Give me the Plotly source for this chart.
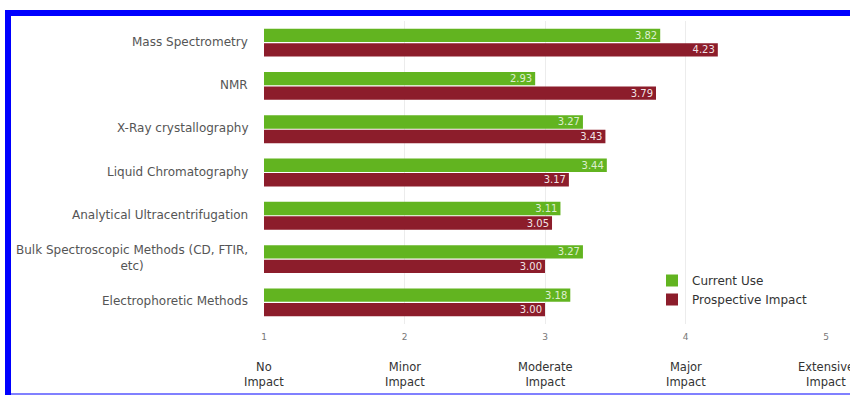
import plotly.graph_objects as go

# ---------------- data ----------------
categories = [
    "Mass Spectrometry",
    "NMR",
    "X-Ray crystallography",
    "Liquid Chromatography",
    "Analytical Ultracentrifugation",
    "Bulk Spectroscopic Methods (CD, FTIR,<br>etc)",
    "Electrophoretic Methods",
]
current_use = [3.82, 2.93, 3.27, 3.44, 3.11, 3.27, 3.18]
prospective_impact = [4.23, 3.79, 3.43, 3.17, 3.05, 3.00, 3.00]
tick_values = [1, 2, 3, 4, 5]
tick_labels = ["1", "2", "3", "4", "5"]
impact_labels = ["No<br>Impact", "Minor<br>Impact", "Moderate<br>Impact",
                 "Major<br>Impact", "Extensive<br>Impact"]
series_names = ["Current Use", "Prospective Impact"]

# ---------------- layout constants ----------------
W, H = 850, 395
ML, MR, MT, MB = 264, 24, 21, 71
PW, PH = W - ML - MR, H - MT - MB
FONT = "DejaVu Sans"
GREEN = "#62b420"
RED = "#8c1d2b"


def px_x(p):
    return (p - ML) / PW


def px_y(p):
    return (H - MB - p) / PH


fig = go.Figure()
for name, vals, col, tcol in [(series_names[0], current_use, GREEN, "rgba(255,255,255,0.8)"),
                              (series_names[1], prospective_impact, RED, "rgba(255,255,255,0.9)")]:
    fig.add_trace(go.Bar(
        y=categories, x=vals, name=name, orientation="h",
        marker=dict(color=col, line=dict(width=0)),
        text=[f"{v:.2f}" for v in vals],
        textposition="inside", insidetextanchor="end", constraintext="none",
        textfont=dict(family=FONT, size=10, color=tcol),
        cliponaxis=True,
    ))

annotations = []
for c in categories:
    annotations.append(dict(
        x=0, xref="paper", y=c, yref="y", xanchor="right", yanchor="middle",
        xshift=-14, yshift=1, text=c, showarrow=False, align="center",
        font=dict(family=FONT, size=12, color="#555555")))
for v, lab in zip(tick_values, impact_labels):
    annotations.append(dict(
        x=v, xref="x", y=0, yref="paper", xanchor="center", yanchor="top",
        yshift=-34, text=lab, showarrow=False, align="center",
        font=dict(family=FONT, size=11.5, color="#333333")))

shapes = [
    # blue frame (top, left, bottom)
    dict(type="rect", xref="paper", yref="paper", x0=px_x(5), x1=px_x(860),
         y0=px_y(16), y1=px_y(10), fillcolor="#0000ff", line=dict(width=0), layer="above"),
    dict(type="rect", xref="paper", yref="paper", x0=px_x(5), x1=px_x(11),
         y0=px_y(400), y1=px_y(10), fillcolor="#0000ff", line=dict(width=0), layer="above"),
    dict(type="rect", xref="paper", yref="paper", x0=px_x(11), x1=px_x(860),
         y0=px_y(396), y1=px_y(393), fillcolor="#8080ff", line=dict(width=0), layer="above"),
]

fig.update_layout(
    width=W, height=H,
    margin=dict(l=ML, r=MR, t=MT, b=MB, pad=0),
    paper_bgcolor="white", plot_bgcolor="white",
    barmode="group", bargap=0.33, bargroupgap=0.08,
    font=dict(family=FONT, size=12, color="#333333"),
    showlegend=True,
    legend=dict(x=px_x(652), y=px_y(266), xanchor="left", yanchor="top",
                traceorder="normal", font=dict(family=FONT, size=12, color="#333333"),
                bgcolor="rgba(0,0,0,0)", tracegroupgap=0, itemwidth=30),
    xaxis=dict(range=[1, 5], tickvals=tick_values, ticktext=tick_labels,
               showgrid=True, gridcolor="#ececec", gridwidth=1, zeroline=False,
               showline=False, ticks="", ticklabelstandoff=6,
               tickfont=dict(family=FONT, size=9, color="#777777"), fixedrange=True),
    yaxis=dict(autorange="reversed", showticklabels=False, showgrid=False,
               zeroline=False, showline=False, ticks="", fixedrange=True),
    annotations=annotations, shapes=shapes,
)

fig.write_html("out.html")
